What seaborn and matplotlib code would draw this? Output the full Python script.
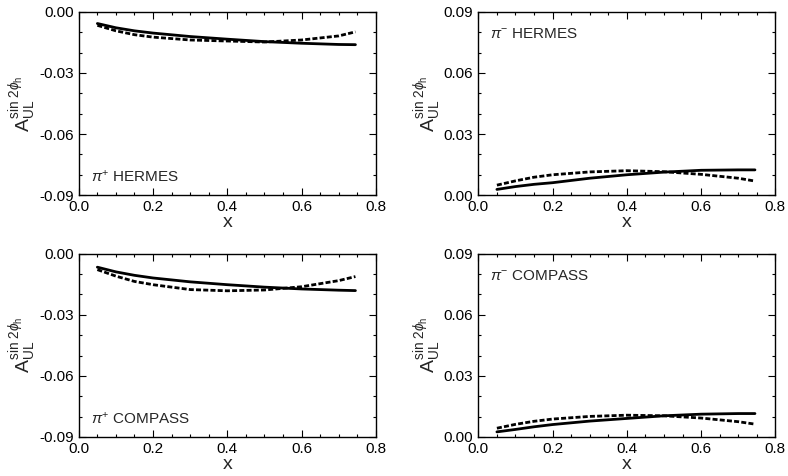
import numpy as np
import pandas as pd
import matplotlib
matplotlib.use('Agg')
import matplotlib.pyplot as plt
from matplotlib.ticker import MultipleLocator
import seaborn as sns

# x grid of the model curves
x_vals = [0.05, 0.1, 0.15, 0.2, 0.3, 0.4, 0.5, 0.6, 0.7, 0.745]

# pi+ HERMES
pip_hermes_solid = [-0.0057, -0.0078, -0.0093, -0.0104, -0.0121, -0.0134, -0.0146, -0.0154, -0.0160, -0.0161]
pip_hermes_dashed = [-0.0066, -0.0093, -0.0112, -0.0124, -0.0138, -0.0143, -0.0148, -0.0138, -0.0118, -0.0098]
# pi- HERMES
pim_hermes_solid = [0.0028, 0.0042, 0.0053, 0.0061, 0.0083, 0.0100, 0.0113, 0.0122, 0.0124, 0.0124]
pim_hermes_dashed = [0.0049, 0.0070, 0.0088, 0.0100, 0.0114, 0.0120, 0.0115, 0.0102, 0.0083, 0.0069]
# pi+ COMPASS
pip_compass_solid = [-0.0066, -0.0089, -0.0106, -0.0119, -0.0138, -0.0152, -0.0164, -0.0173, -0.0179, -0.0181]
pip_compass_dashed = [-0.0078, -0.0110, -0.0136, -0.0152, -0.0176, -0.0182, -0.0178, -0.0162, -0.0132, -0.0112]
# pi- COMPASS
pim_compass_solid = [0.0025, 0.0037, 0.0050, 0.0061, 0.0078, 0.0091, 0.0104, 0.0112, 0.0115, 0.0115]
pim_compass_dashed = [0.0043, 0.0062, 0.0077, 0.0088, 0.0101, 0.0107, 0.0104, 0.0093, 0.0075, 0.0063]

panel_labels = [r'$\pi^{+}$ HERMES', r'$\pi^{-}$ HERMES',
                r'$\pi^{+}$ COMPASS', r'$\pi^{-}$ COMPASS']

sns.set_style('ticks')
plt.rcParams['font.family'] = ['Liberation Sans', 'DejaVu Sans']
plt.rcParams['mathtext.fontset'] = 'custom'
plt.rcParams['mathtext.rm'] = 'Liberation Sans'
plt.rcParams['mathtext.it'] = 'Liberation Sans:italic'
plt.rcParams['mathtext.bf'] = 'Liberation Sans:bold'

panels = [
    (pip_hermes_solid, pip_hermes_dashed, (-0.09, 0.0), [-0.09, -0.06, -0.03, 0.0], (0.04, 0.10)),
    (pim_hermes_solid, pim_hermes_dashed, (0.0, 0.09), [0.0, 0.03, 0.06, 0.09], (0.04, 0.88)),
    (pip_compass_solid, pip_compass_dashed, (-0.09, 0.0), [-0.09, -0.06, -0.03, 0.0], (0.04, 0.10)),
    (pim_compass_solid, pim_compass_dashed, (0.0, 0.09), [0.0, 0.03, 0.06, 0.09], (0.04, 0.88)),
]

fig, axes = plt.subplots(2, 2, figsize=(7.88, 4.76), dpi=100)
fig.subplots_adjust(left=0.100, right=0.984, top=0.975, bottom=0.082,
                    wspace=0.345, hspace=0.32)
axes = axes.flatten()

for ax, (solid, dashed, ylim, yticks, lab_pos), label in zip(axes, panels, panel_labels):
    df = pd.DataFrame({'x': x_vals + x_vals,
                       'A': solid + dashed,
                       'curve': ['solid'] * len(x_vals) + ['dashed'] * len(x_vals)})
    sns.lineplot(data=df, x='x', y='A', style='curve',
                 dashes={'solid': '', 'dashed': (1.8, 0.8)},
                 color='black', linewidth=2, legend=False, ax=ax)

    ax.set_xlim(0.0, 0.8)
    ax.set_ylim(*ylim)
    ax.set_xticks([0.0, 0.2, 0.4, 0.6, 0.8])
    ax.set_yticks(yticks)
    ax.xaxis.set_minor_locator(MultipleLocator(0.05))
    ax.yaxis.set_minor_locator(MultipleLocator(0.01))
    ax.set_xticklabels([f'{v:.1f}' for v in [0.0, 0.2, 0.4, 0.6, 0.8]])
    ax.set_yticklabels([f'{v:.2f}' for v in yticks])
    ax.tick_params(which='both', direction='in', top=True, right=True,
                   labelsize=11, colors='black')
    ax.tick_params(which='major', length=5, width=0.8)
    ax.tick_params(which='minor', length=2.5, width=0.8)
    for sp in ax.spines.values():
        sp.set_color('black')
        sp.set_linewidth(1.0)

    ax.set_xlabel('x', fontsize=14, labelpad=0)
    ax.set_ylabel(r'$\mathrm{A}_{\mathrm{UL}}^{\mathrm{sin\ 2}\phi_{\mathrm{h}}}$',
                  fontsize=14, labelpad=0)
    ax.text(lab_pos[0], lab_pos[1], label, transform=ax.transAxes,
            fontsize=11, va='center', ha='left')

fig.savefig('out.png', dpi=100)
plt.close(fig)
